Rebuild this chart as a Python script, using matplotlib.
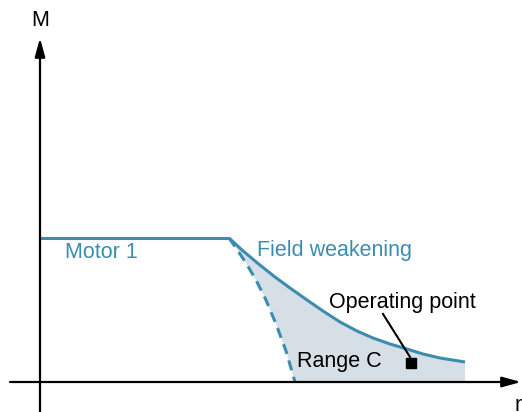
import matplotlib
matplotlib.use("Agg")
import matplotlib.pyplot as plt

plt.rcParams['font.family'] = ['Liberation Sans', 'DejaVu Sans']

# values (n = speed, M = torque, arbitrary units)
motor1_n = [0, 189]
motor1_M = [144, 144]

field_n = [189, 202, 218, 235, 250, 267, 283, 300, 317, 333, 350, 367, 383, 400, 425]
field_M = [144, 132, 118.5, 105, 94, 82, 71, 60, 51, 44, 38, 33, 28, 24, 20]

limit_n = [189, 196, 206, 216, 226, 236, 246, 255]
limit_M = [144, 134, 119, 102, 82, 58, 31, 0]

op_n, op_M = 371, 19

blue = '#3b8db0'
fill_col = '#d6dfe6'

fig = plt.figure(figsize=(5.22, 4.12), dpi=100)
ax = fig.add_axes([0, 0, 1, 1])
ax.set_xlim(-40, 482)
ax.set_ylim(-30, 382)
ax.set_axis_off()

# range C area between the field weakening curve and the dashed limit
poly_n = field_n + [field_n[-1], limit_n[-1]] + limit_n[::-1]
poly_M = field_M + [0, 0] + limit_M[::-1]
ax.fill(poly_n, poly_M, color=fill_col, lw=0, zorder=1)

# axes with arrows
arrow = dict(arrowstyle='-|>,head_length=0.8,head_width=0.22', lw=1.6,
             color='black', mutation_scale=14, shrinkA=0, shrinkB=0)
ax.annotate('', xy=(0, 344), xytext=(0, -30), arrowprops=arrow, zorder=4)
ax.annotate('', xy=(481, 0), xytext=(-30, 0), arrowprops=arrow, zorder=4)
ax.text(0, 356, 'M', ha='center', va='baseline', fontsize=15.5)
ax.text(475, -29, 'n', ha='left', va='baseline', fontsize=15.5)

ax.plot(motor1_n, motor1_M, color=blue, lw=2.2, zorder=3, solid_capstyle='butt')
ax.plot(field_n, field_M, color=blue, lw=2.2, zorder=3, solid_capstyle='butt')
ax.plot(limit_n, limit_M, color=blue, lw=2.2, ls=(0, (3.4, 2.2)), zorder=3)

ax.text(25, 124, 'Motor 1', color=blue, fontsize=15.5, va='baseline')
ax.text(217, 126, 'Field weakening', color=blue, fontsize=15.5, va='baseline')
ax.text(257, 15, 'Range C', color='black', fontsize=15.5, va='baseline')
ax.text(362, 74, 'Operating point', color='black', fontsize=15.5,
        ha='center', va='baseline')

# operating point marker and leader line
ax.plot([op_n - 1, 343], [op_M + 6, 68], color='black', lw=1.5, zorder=4)
ax.plot([op_n], [op_M], marker='s', ms=7.5, color='black', zorder=5)

fig.savefig('out.png', dpi=100)
